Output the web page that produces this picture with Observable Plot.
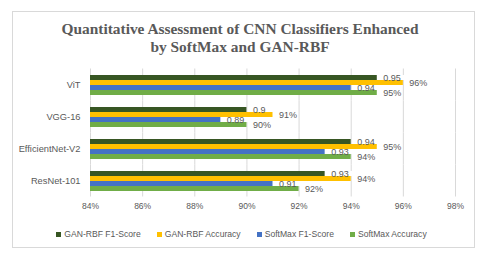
<!DOCTYPE html>
<html><head><meta charset="utf-8">
<script src="https://cdn.jsdelivr.net/npm/d3@7"></script>
<script src="https://cdn.jsdelivr.net/npm/@observablehq/plot@0.6"></script>
<style>
html,body{margin:0;padding:0;background:#fff;}
#wrap{position:relative;width:480px;height:256px;overflow:hidden;font-family:"Liberation Sans",Arial,sans-serif;}
#frame{position:absolute;left:12px;top:11px;width:463px;height:237px;border:1px solid #d9d9d9;box-sizing:border-box;}
#title{position:absolute;left:0;top:20px;width:480px;text-align:center;font-family:"Liberation Serif","Times New Roman",serif;font-weight:bold;font-size:15.4px;line-height:17.5px;color:#595959;}
#chart{position:absolute;left:0;top:56px;}
#legend{position:absolute;left:0;top:228px;width:480px;display:flex;justify-content:center;gap:16px;font-size:8.6px;color:#595959;line-height:12px;padding-left:3px;box-sizing:border-box;}
#legend span.sw{display:inline-block;width:5px;height:5px;margin-right:3px;vertical-align:0px;}
</style></head>
<body><div id="wrap"><div id="frame"></div>
<div id="title">Quantitative Assessment of CNN Classifiers Enhanced<br>by SoftMax and GAN-RBF</div>
<div id="chart"></div><div id="legend"></div></div>
<script>
const models = ["ViT", "VGG-16", "EfficientNet-V2", "ResNet-101"];
const series = ["GAN-RBF F1-Score", "GAN-RBF Accuracy", "SoftMax F1-Score", "SoftMax Accuracy"];
const colors = ["#375623", "#FFC000", "#4472C4", "#70AD47"];
const ganF1 = [0.95, 0.9, 0.94, 0.93];
const ganAcc = [96, 91, 95, 94];
const smF1 = [0.94, 0.89, 0.93, 0.91];
const smAcc = [95, 90, 94, 92];
const xTicks = [84, 86, 88, 90, 92, 94, 96, 98];

const rows = [];
models.forEach((m, i) => {
  rows.push({model: m, series: series[0], v: ganF1[i] * 100, label: String(ganF1[i]), f1: true});
  rows.push({model: m, series: series[1], v: ganAcc[i], label: ganAcc[i] + "%", f1: false});
  rows.push({model: m, series: series[2], v: smF1[i] * 100, label: String(smF1[i]), f1: true});
  rows.push({model: m, series: series[3], v: smAcc[i], label: smAcc[i] + "%", f1: false});
});

const chart = Plot.plot({
  width: 480, height: 170,
  marginLeft: 90, marginRight: 25, marginTop: 12, marginBottom: 28,
  style: {fontFamily: "Liberation Sans, Arial, sans-serif", fontSize: "8.5px", color: "#595959", background: "transparent"},
  x: {domain: [84, 98], ticks: xTicks, tickFormat: d => d + "%", tickSize: 0, tickPadding: 11, label: null},
  fy: {domain: models, paddingInner: 0.33, paddingOuter: 0.165, label: null},
  y: {domain: series, padding: 0, axis: null},
  color: {domain: series, range: colors},
  marks: [
    Plot.ruleX(xTicks, {stroke: "#d9d9d9", strokeWidth: 1, insetTop: -5.5, insetBottom: -5.5}),
    Plot.axisFy({anchor: "left", tickSize: 0, tickPadding: 10, fontSize: 9.3, label: null}),
    Plot.barX(rows, {fy: "model", y: "series", x1: 84, x2: "v", fill: "series"}),
    Plot.barX(rows.filter(d => d.f1), {fy: "model", y: "series", x1: d => d.v + 0.05, x2: d => d.v + 0.45 + d.label.length * 0.2, fill: "white"}),
    Plot.text(rows, {fy: "model", y: "series", x: "v", text: "label", dx: 6, textAnchor: "start", fill: "#595959", fontSize: 9})
  ]
});
document.getElementById("chart").appendChild(chart);

const lg = document.getElementById("legend");
series.forEach((s, i) => {
  const d = document.createElement("div");
  d.innerHTML = `<span class="sw" style="background:${colors[i]}"></span>${s}`;
  lg.appendChild(d);
});
</script></body></html>
